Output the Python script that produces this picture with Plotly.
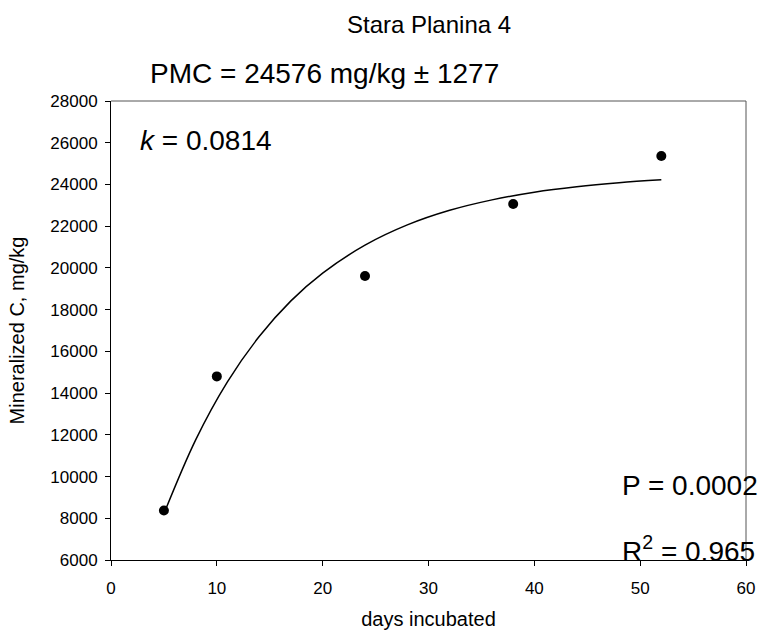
import plotly.graph_objects as go

# Observed data
days = [5, 10, 24, 38, 52]
mineralized_c = [8370, 14800, 19610, 23060, 25360]

# Fitted curve
fit_days = [5, 8, 11, 14, 17, 20, 24, 28, 32, 36, 40, 44, 48, 52]
fit_c = [8220, 11760, 14540, 16710, 18420, 19750, 21090, 22060, 22760,
         23260, 23630, 23890, 24080, 24220]

x_ticks = [0, 10, 20, 30, 40, 50, 60]
y_ticks = [6000, 8000, 10000, 12000, 14000, 16000, 18000, 20000, 22000,
           24000, 26000, 28000]

title_text = "Stara Planina 4"
pmc_text = "PMC = 24576 mg/kg ± 1277"
k_text = "<i>k</i> = 0.0814"
p_text = "P = 0.0002"
r2_text = "R<sup>2</sup> = 0.965"

FONT = "Liberation Sans, Arial, sans-serif"

fig = go.Figure()
fig.add_trace(go.Scatter(x=fit_days, y=fit_c, mode="lines",
                         line=dict(color="black", width=1.5, shape="spline"),
                         hoverinfo="skip", showlegend=False))
fig.add_trace(go.Scatter(x=days, y=mineralized_c, mode="markers",
                         marker=dict(color="black", size=10),
                         showlegend=False))

L, R, T, B = 111, 22, 101, 80
W, H = 768, 640
pw, ph = W - L - R, H - T - B

def px(xp):
    return (xp - L) / pw

def py(yp):
    return (H - B - yp) / ph

ann = [
    dict(text=title_text, x=px(429), y=py(24), xanchor="center", yanchor="middle",
         font=dict(size=24)),
    dict(text=pmc_text, x=px(148), y=py(73), xanchor="left", yanchor="middle",
         font=dict(size=28)),
    dict(text=k_text, x=px(138), y=py(140), xanchor="left", yanchor="middle",
         font=dict(size=28)),
    dict(text=p_text, x=px(620), y=py(485), xanchor="left", yanchor="middle",
         font=dict(size=28)),
    dict(text=r2_text, x=px(620), y=py(549), xanchor="left", yanchor="middle",
         font=dict(size=28)),
]
for a in ann:
    a.update(xref="paper", yref="paper", showarrow=False)
    a["font"].update(color="black", family=FONT)

fig.update_layout(
    width=W, height=H,
    margin=dict(l=L, r=R, t=T, b=B),
    paper_bgcolor="white", plot_bgcolor="white",
    font=dict(family=FONT, color="black", size=17),
    annotations=ann,
    shapes=[
        dict(type="line", xref="paper", yref="paper", x0=0, x1=1, y0=1, y1=1,
             line=dict(color="#555555", width=1)),
        dict(type="line", xref="paper", yref="paper", x0=1, x1=1, y0=0, y1=1,
             line=dict(color="#555555", width=1)),
    ],
    xaxis=dict(range=[0, 60], tickvals=x_ticks, ticktext=[str(v) for v in x_ticks],
               ticks="outside", ticklen=5,
               tickcolor="black", showline=True, linecolor="black", linewidth=1,
               showgrid=False, zeroline=False, ticklabelstandoff=8,
               title=dict(text="days incubated", font=dict(size=20), standoff=14)),
    yaxis=dict(range=[6000, 28000], tickvals=y_ticks, ticktext=[str(v) for v in y_ticks],
               ticks="outside", ticklen=5,
               tickcolor="black", showline=True, linecolor="black", linewidth=1,
               showgrid=False, zeroline=False, ticklabelstandoff=4,
               title=dict(text="Mineralized C, mg/kg", font=dict(size=20), standoff=20)),
)

fig.write_html("out.html")
